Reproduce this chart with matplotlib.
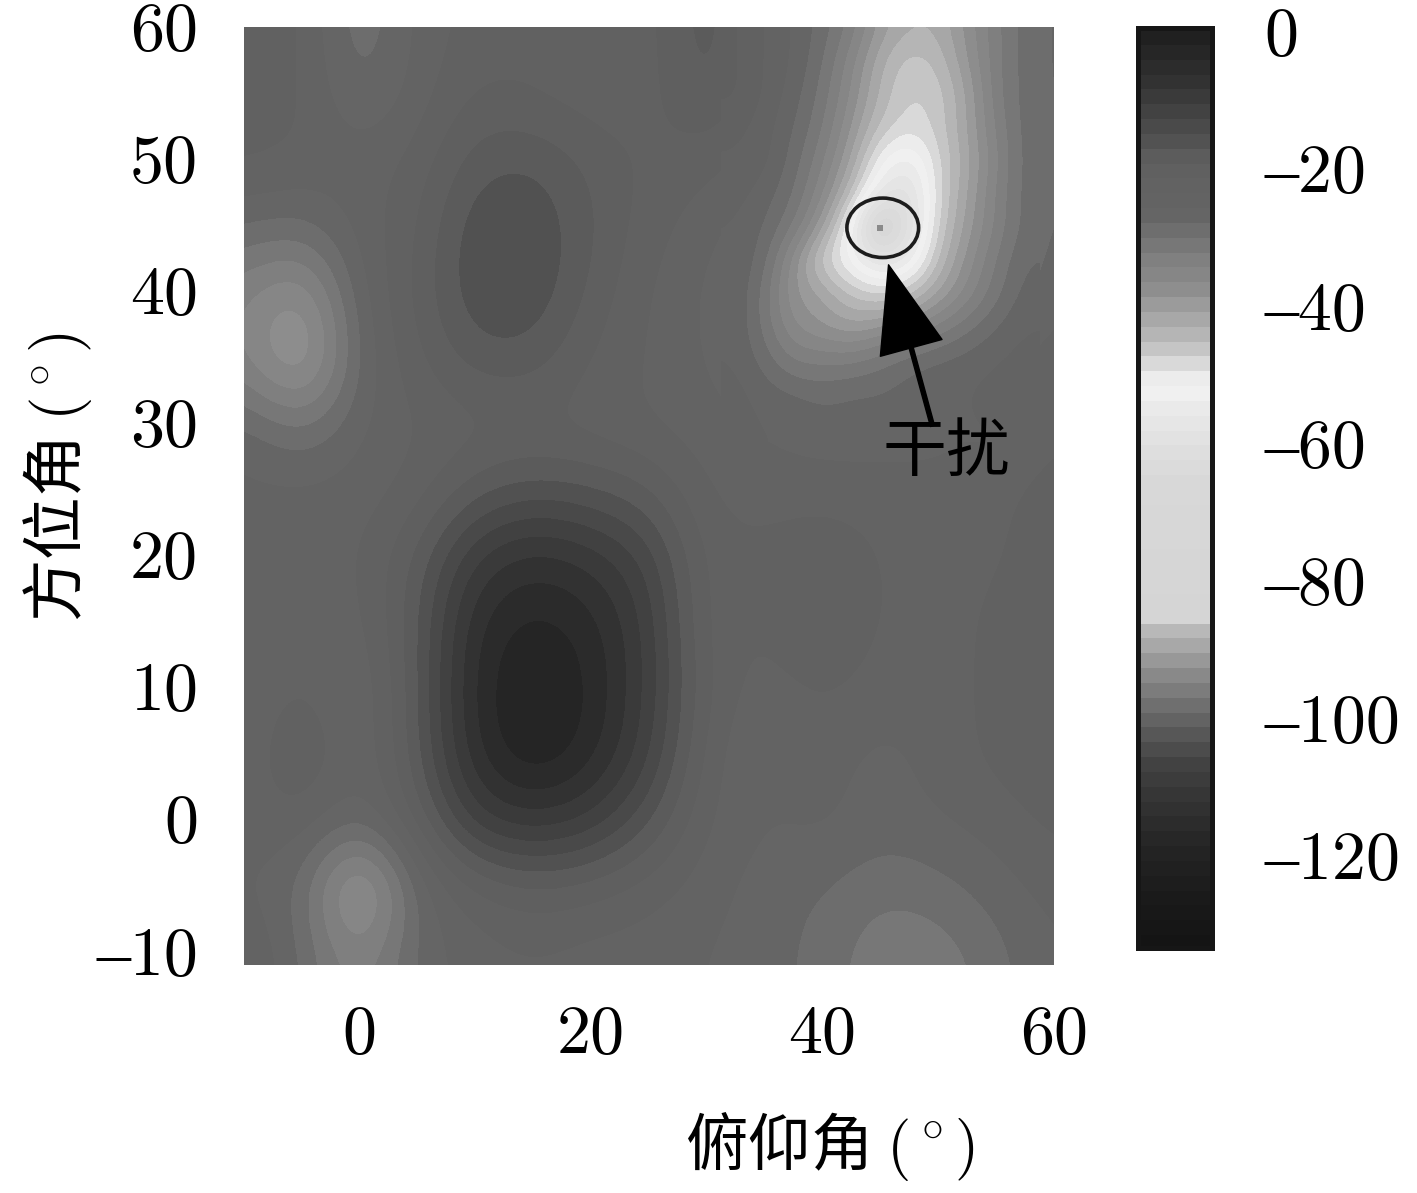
import matplotlib
matplotlib.use('Agg')
import matplotlib.pyplot as plt
import numpy as np
from matplotlib.colors import LinearSegmentedColormap, Normalize
from matplotlib.patches import Ellipse
from matplotlib.transforms import ScaledTranslation

plt.rcParams['mathtext.fontset'] = 'cm'
plt.rcParams['font.family'] = ['Noto Sans CJK SC', 'DejaVu Sans']

# dB values, 5 degree steps, first row is y = 60
x_grid = [-10, -5, 0, 5, 10, 15, 20, 25, 30, 35, 40, 45, 50, 55, 60]
y_grid = [60, 55, 50, 45, 40, 35, 30, 25, 20, 15, 10, 5, 0, -5, -10]
gain = [
    [-21, -22, -30, -24, -22, -21, -22, -22, -16, -23, -28, -39, -42, -32, -26],
    [-22, -22, -28, -24, -20, -21, -22, -22, -17, -23, -30, -43, -46, -32, -26],
    [-22, -23, -24, -22, -17, -16, -19, -21, -22, -24, -33, -51, -47, -34, -27],
    [-27, -28, -24, -21, -14, -14, -18, -22, -24, -27, -39, -75, -46, -33, -26],
    [-33, -38, -25, -20, -14, -14, -19, -23, -25, -30, -40, -47, -40, -30, -25],
    [-33, -42, -26, -21, -17, -17, -21, -23, -25, -28, -32, -30, -27, -25, -24],
    [-26, -30, -25, -23, -22, -21.5, -22, -23, -24, -25, -26, -26, -26, -25, -23],
    [-24, -24, -24, -22, -17, -15, -16, -18, -23, -24, -24, -24, -24, -23, -22],
    [-25, -24, -23, -18, -9, -6, -8, -12, -22, -22, -20, -23, -24, -23, -22],
    [-25, -24, -24, -17, -5, -2, -4, -10, -22, -23, -20, -23, -24, -22, -21],
    [-25, -22, -26, -17, -4, 0, -3, -10, -21, -24, -22, -24, -24, -22, -21],
    [-25, -19, -26, -17, -5, -0.5, -4, -11, -22, -26, -24, -26, -24, -22, -21],
    [-24, -23, -27, -20, -10, -8, -10, -16, -23, -25, -24, -26, -25, -24, -22],
    [-25, -27, -43, -26, -21, -19, -20, -22, -24, -26, -27, -29, -28, -26, -24],
    [-22, -27, -34, -26, -24, -23, -24, -24, -25, -26, -28, -31, -31, -28, -25],
]

# finer 2.5 degree patch around the interference null
x_peak = [32.5, 35, 37.5, 40, 42.5, 45, 47.5, 50, 52.5, 55, 57.5]
y_peak = [60, 57.5, 55, 52.5, 50, 47.5, 45, 42.5, 40, 37.5, 35, 32.5, 30]
gain_peak = [
    [-20, -23, -25, -28, -32, -39, -42, -42, -37, -32, -28],
    [-20, -23, -25, -29, -35, -42, -46, -44, -38, -32, -28],
    [-20, -23, -26, -30, -36, -43, -47, -46, -40, -32, -28],
    [-22, -24, -27, -31, -38, -45, -48, -46, -40, -33, -28],
    [-23, -24, -28, -33, -40, -51, -55, -47, -41, -34, -28],
    [-24, -26, -29, -35, -44, -56, -60, -47, -40, -33, -28],
    [-25, -27, -31, -39, -52, -75, -60, -46, -39, -33, -28],
    [-25, -28, -37, -47, -52, -58, -55, -44, -37, -31, -27],
    [-25, -30, -38, -40, -45, -47, -45, -40, -35, -30, -26],
    [-25, -30, -36, -38, -40, -38, -36, -33, -30, -27, -25],
    [-25, -28, -32, -32, -32, -30, -28, -27, -26, -25, -24],
    [-24, -26, -27, -28, -27, -27, -26, -25, -25, -24, -24],
    [-24, -25, -25, -26, -26, -26, -26, -26, -25, -25, -24],
]

# grey scale of the colorbar (dB, grey 0-255)
cbar_db = [1, -5, -10, -15, -17, -26, -28, -32, -36, -40, -44, -46, -48, -50, -50.5,
           -53, -58, -65, -85, -85.5, -88, -92, -97, -102, -107, -112, -118, -126, -133]
cbar_grey = [32, 48, 66, 84, 94, 102, 112, 128, 140, 163, 188, 204, 224, 240, 244,
             236, 226, 216, 213, 194, 176, 146, 116, 88, 64, 52, 38, 26, 20]

x_ticks = [0, 20, 40, 60]
y_ticks = [-10, 0, 10, 20, 30, 40, 50, 60]
cbar_ticks = [0, -20, -40, -60, -80, -100, -120]
tick_fonts = ['cmr10', 'Liberation Serif']


def tick_text(v):
    # en dash is the short minus of the original, cmr10 lacks it
    return ('\u2013' if v < 0 else '') + str(abs(v))


W, H = 1417, 1193
fig = plt.figure(figsize=(W / 100, H / 100), dpi=100)
ax = fig.add_axes([244 / W, (H - 965) / H, 810 / W, 938 / H])
cax = fig.add_axes([1138 / W, (H - 948) / H, 74 / W, 920 / H])

vmin, vmax = -133, 1
stops = [((d - vmin) / (vmax - vmin), (g / 255,) * 3) for d, g in zip(cbar_db, cbar_grey)]
cmap = LinearSegmentedColormap.from_list('bands', sorted(stops), N=62)
norm = Normalize(vmin, vmax)

im = ax.imshow(gain, cmap=cmap, norm=norm, interpolation='bicubic', interpolation_stage='data',
               extent=[x_grid[0] - 2.5, x_grid[-1] + 2.5, y_grid[-1] - 2.5, y_grid[0] + 2.5], aspect='auto')
ax.imshow(gain_peak, cmap=cmap, norm=norm, interpolation='bicubic', interpolation_stage='data',
          extent=[x_peak[0] - 1.25, x_peak[-1] + 1.25, y_peak[-1] - 1.25, y_peak[0] + 1.25], aspect='auto')

# the little ring and dot on the null
ax.add_patch(Ellipse((45.2, 45.0), 6.2, 4.5, fill=False, ec='#1c1c1c', lw=2.6))
ax.plot([45.0], [45.0], 's', ms=5, color='#8a8a8a', mew=0)

ax.annotate('', xy=(45.7, 42.2), xytext=(49.5, 30.0),
            arrowprops=dict(facecolor='black', edgecolor='black', width=3, headwidth=46, headlength=62, shrink=0))
ax.text(45.2, 28.0, '干扰', fontsize=46, ha='left', va='center', color='black')

ax.set_xlim(-10, 60)
ax.set_ylim(-10.8, 60.2)
ax.set_xticks(x_ticks, [tick_text(v) for v in x_ticks], fontfamily=tick_fonts)
ax.set_yticks(y_ticks, [tick_text(v) for v in y_ticks], fontfamily=tick_fonts)
ax.tick_params(axis='x', length=0, labelsize=49, pad=29)
ax.tick_params(axis='y', length=0, labelsize=49, pad=33)
for s in ax.spines.values():
    s.set_visible(False)

ax.set_xlabel(r'俯仰角 $(^\circ)$', fontsize=45)
ax.xaxis.set_label_coords(0.723, -0.155)
ax.set_ylabel(r'方位角 $(^\circ)$', fontsize=45)
ax.yaxis.set_label_coords(-0.185, 0.52)

cb = fig.colorbar(im, cax=cax)
cb.set_ticks(cbar_ticks, labels=[tick_text(v) for v in cbar_ticks], fontfamily=tick_fonts)
cb.ax.tick_params(length=0, labelsize=49, pad=38)
cb.outline.set_edgecolor('#161616')
cb.outline.set_linewidth(3.6)
cb.solids.set_edgecolor('face')

# labels sit a little low against the ticks, lift them
lift = ScaledTranslation(0, 4 / 100, fig.dpi_scale_trans)
for lab in ax.get_yticklabels() + cb.ax.get_yticklabels():
    lab.set_transform(lab.get_transform() + lift)

fig.savefig('out.png', dpi=100)
